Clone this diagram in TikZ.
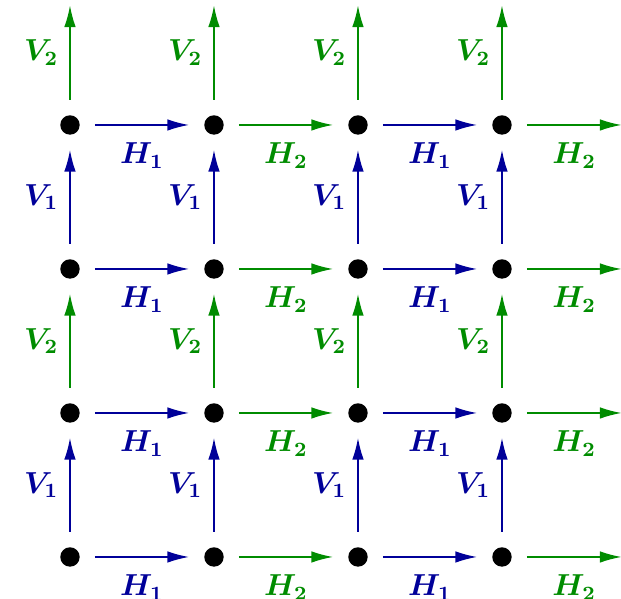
\documentclass[tikz,border=0pt]{standalone}
\usepackage{amsmath,bm}
\usetikzlibrary{arrows.meta,calc,positioning}

\colorlet{bluepath}{blue!60!black}
\colorlet{greenpath}{green!55!black}

\begin{document}
\begin{tikzpicture}[
    dot/.style={circle, fill=black, inner sep=0pt, minimum size=0.27cm},
    link/.style={-{Latex[length=3mm,width=1.6mm]}, semithick, shorten <=0.205cm, shorten >=0.205cm},
    hlabel/.style={below=3.5pt, font=\large},
    vlabel/.style={left=1pt, font=\large}
  ]
  \useasboundingbox (-0.972,-0.583) rectangle (7.653,7.736);
  % lattice points
  \foreach \i in {0,...,3}
    \foreach \j in {0,...,3}
      \node[dot] (p\i\j) at (2*\i,2*\j) {};
  % free ends on the right and on top
  \foreach \k in {0,...,3} {
    \coordinate (p4\k) at (7.865,2*\k);
    \coordinate (p\k4) at (2*\k,7.865);
  }
  % horizontal moves
  \foreach \i/\n/\c [evaluate=\i as \ii using int(\i+1)] in {0/1/bluepath,1/2/greenpath,2/1/bluepath,3/2/greenpath}
    \foreach \j in {0,...,3}
      \draw[link, \c] (p\i\j) -- node[hlabel] {$\bm{H_\n}$} (p\ii\j);
  % vertical moves
  \foreach \j/\n/\c [evaluate=\j as \jj using int(\j+1)] in {0/1/bluepath,1/2/greenpath,2/1/bluepath,3/2/greenpath}
    \foreach \i in {0,...,3}
      \draw[link, \c] (p\i\j) -- node[vlabel] {$\bm{V_\n}$} (p\i\jj);
\end{tikzpicture}
\end{document}
